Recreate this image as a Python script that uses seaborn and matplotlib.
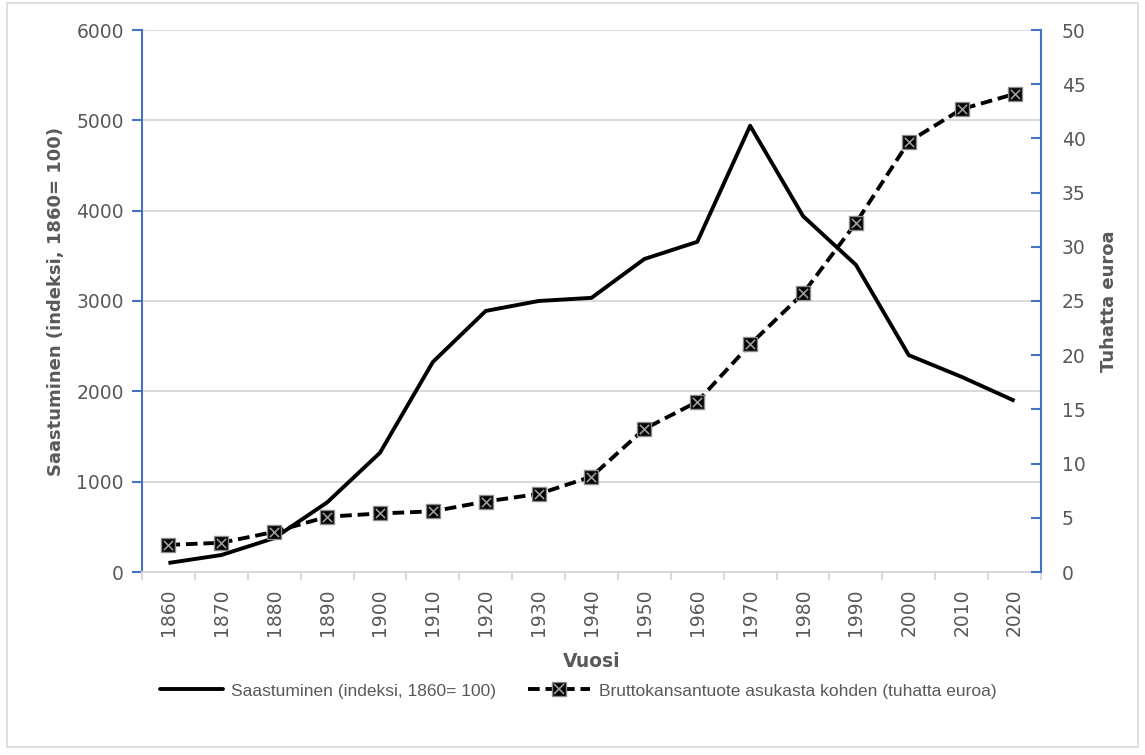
import matplotlib
matplotlib.use("Agg")
import matplotlib.pyplot as plt
import seaborn as sns
import pandas as pd
from matplotlib.lines import Line2D
from matplotlib.legend_handler import HandlerTuple
from matplotlib.patches import Rectangle
from matplotlib.ticker import FixedLocator

years = [1860, 1870, 1880, 1890, 1900, 1910, 1920, 1930, 1940,
         1950, 1960, 1970, 1980, 1990, 2000, 2010, 2020]
pollution = [100, 188, 375, 770, 1320, 2325, 2890, 3000, 3035,
             3465, 3655, 4940, 3940, 3400, 2400, 2160, 1895]
gdp = [2.5, 2.7, 3.7, 5.1, 5.4, 5.6, 6.5, 7.2, 8.8,
       13.2, 15.7, 21.0, 25.7, 32.2, 39.7, 42.7, 44.1]

label_pollution = "Saastuminen (indeksi, 1860= 100)"
label_gdp = "Bruttokansantuote asukasta kohden (tuhatta euroa)"
xlabel = "Vuosi"
ylabel_left = "Saastuminen (indeksi, 1860= 100)"
ylabel_right = "Tuhatta euroa"

df = pd.DataFrame({"year": years, "pollution": pollution, "gdp": gdp})

sns.set_theme(style="white")
plt.rcParams["font.family"] = ["DejaVu Sans"]

GRAY = "#595959"
BLUE = "#4472C4"
GRID = "#d9d9d9"
LW = 2.8
DASH = (0, (3, 1.5))

fig = plt.figure(figsize=(11.45, 7.55), dpi=100)
ax = fig.add_axes([142/1145, 1-572/755, (1041-142)/1145, (572-30)/755])
ax2 = ax.twinx()

sns.lineplot(data=df, x="year", y="pollution", ax=ax, color="black",
             linewidth=LW, solid_capstyle="butt")
sns.lineplot(data=df, x="year", y="gdp", ax=ax2, color="black",
             linewidth=LW, linestyle=DASH, marker="s",
             markersize=10, markerfacecolor="black",
             markeredgecolor="#8c8c8c", markeredgewidth=1.0)
sns.scatterplot(data=df, x="year", y="gdp", ax=ax2, marker="x",
                color="#9a9a9a", s=45, linewidth=1.2, zorder=5)

ax.set_xlim(1855, 2025)
ax.set_ylim(0, 6000)
ax2.set_ylim(0, 50)
ax.set_yticks(range(0, 6001, 1000))
ax2.set_yticks(range(0, 51, 5))
ax.xaxis.set_major_locator(FixedLocator(years))
ax.set_xticklabels([str(y) for y in years], rotation=90)
ax.xaxis.set_minor_locator(FixedLocator([1855 + 10*i for i in range(18)]))

ax.grid(axis="y", color=GRID, linewidth=1.4)
ax.grid(axis="x", visible=False)
ax2.grid(False)
ax.set_axisbelow(True)

for a in (ax, ax2):
    for s in a.spines.values():
        s.set_visible(False)
ax.spines["left"].set_visible(True)
ax.spines["left"].set_color(BLUE)
ax.spines["left"].set_linewidth(1.5)
ax.spines["bottom"].set_visible(True)
ax.spines["bottom"].set_color(GRID)
ax.spines["bottom"].set_linewidth(1.4)
ax2.spines["right"].set_visible(True)
ax2.spines["right"].set_color(BLUE)
ax2.spines["right"].set_linewidth(1.5)

ax.tick_params(axis="y", which="major", direction="out", length=7, width=1.5,
               color=BLUE, labelcolor=GRAY, labelsize=13.5, pad=6, left=True)
ax2.tick_params(axis="y", which="major", direction="in", length=7, width=1.5,
                color=BLUE, labelcolor=GRAY, labelsize=13.5, pad=15, right=True)
ax.tick_params(axis="x", which="major", length=0, labelcolor=GRAY,
               labelsize=13.5, pad=12)
ax.tick_params(axis="x", which="minor", direction="out", length=6, width=1.4,
               color=GRID, bottom=True)

ax.set_xlabel(xlabel, color=GRAY, fontsize=13.5, fontweight="bold", labelpad=11)
ax.set_ylabel(ylabel_left, color=GRAY, fontsize=13, fontweight="bold", labelpad=8)
ax2.set_ylabel(ylabel_right, color=GRAY, fontsize=13, fontweight="bold", labelpad=10)

h1 = Line2D([], [], color="black", linewidth=LW)
h2a = Line2D([], [], color="black", linewidth=LW, linestyle=DASH,
             marker="s", markersize=10, markerfacecolor="black",
             markeredgecolor="#8c8c8c", markeredgewidth=1.0)
h2b = Line2D([], [], linestyle="none", marker="x", markersize=7,
             color="#9a9a9a", markeredgewidth=1.2)
fig.legend([h1, (h2a, h2b)], [label_pollution, label_gdp],
           handler_map={tuple: HandlerTuple(ndivide=1)},
           loc="center", bbox_to_anchor=(0.505, 1-691/755), ncol=2,
           frameon=False, handlelength=3.6, handletextpad=0.5,
           columnspacing=1.8,
           prop={"family": "Liberation Sans", "size": 12.5},
           labelcolor=GRAY)

fig.patches.append(Rectangle((7/1145, 8/755), (1138-7)/1145, (752-8)/755,
                             transform=fig.transFigure, fill=False,
                             edgecolor=GRID, linewidth=1.2))

fig.savefig("out.png", dpi=100, facecolor="white")
